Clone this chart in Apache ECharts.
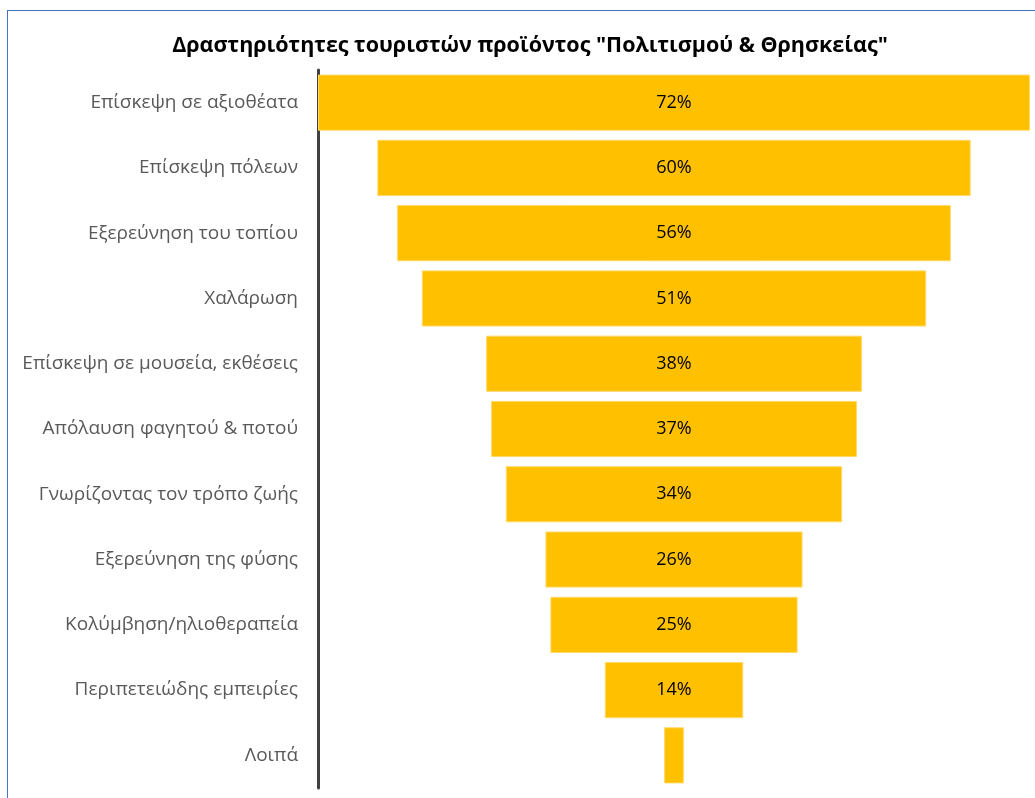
<!DOCTYPE html>
<html>
<head>
<meta charset="utf-8">
<script src="https://cdn.jsdelivr.net/npm/echarts@6/dist/echarts.min.js"></script>
<style>
  html, body { margin: 0; padding: 0; background: #fff; }
  #chart { width: 1035px; height: 798px; }
</style>
</head>
<body>
<div id="chart"></div>
<script>
// Activities of tourists, culture & religion product (share of respondents, %)
const categories = [
  'Επίσκεψη σε αξιοθέατα',
  'Επίσκεψη πόλεων',
  'Εξερεύνηση του τοπίου',
  'Χαλάρωση',
  'Επίσκεψη σε μουσεία, εκθέσεις',
  'Απόλαυση φαγητού & ποτού',
  'Γνωρίζοντας τον τρόπο ζωής',
  'Εξερεύνηση της φύσης',
  'Κολύμβηση/ηλιοθεραπεία',
  'Περιπετειώδης εμπειρίες',
  'Λοιπά'
];
const values = [72, 60, 56, 51, 38, 37, 34, 26, 25, 14, 2];
const titleText = 'Δραστηριότητες τουριστών προϊόντος "Πολιτισμού & Θρησκείας"';

const maxVal = Math.max(...values);
// invisible spacer so each bar sits centred on the widest one
const spacer = values.map(v => (maxVal - v) / 2);

const chart = echarts.init(document.getElementById('chart'), null, { renderer: 'canvas' });
chart.setOption({
  animation: false,
  backgroundColor: '#ffffff',
  title: {
    text: titleText,
    left: 525,
    textAlign: 'center',
    top: 30,
    textStyle: { fontFamily: 'Open Sans', fontWeight: 'bold', fontSize: 21.5, color: '#000000' }
  },
  graphic: [
    { type: 'line', shape: { x1: 7, y1: 10.5, x2: 1035, y2: 10.5 }, style: { stroke: '#4472C4', lineWidth: 1 } },
    { type: 'line', shape: { x1: 7.5, y1: 10, x2: 7.5, y2: 798 }, style: { stroke: '#4472C4', lineWidth: 1 } }
  ],
  grid: { left: 318, right: 5, top: 70, bottom: 10, containLabel: false },
  xAxis: {
    type: 'value', min: 0, max: maxVal,
    show: false
  },
  yAxis: {
    type: 'category',
    data: categories,
    inverse: true,
    offset: 2,
    axisLine: { show: true, lineStyle: { color: '#404040', width: 3 } },
    axisTick: { show: false },
    axisLabel: { color: '#595959', fontFamily: 'Open Sans', fontSize: 19, margin: 18 }
  },
  series: [
    {
      type: 'bar', stack: 'f', data: spacer,
      itemStyle: { color: 'transparent' },
      barCategoryGap: '14%', silent: true
    },
    {
      type: 'bar', stack: 'f',
      data: values.map(v => ({ value: v, label: { show: v >= 5 } })),
      itemStyle: { color: '#FFC000', borderColor: '#FFD966', borderWidth: 1 },
      barCategoryGap: '14%',
      label: {
        position: 'inside', formatter: '{c}%',
        color: '#000000', fontFamily: 'Open Sans', fontSize: 18
      }
    }
  ]
});
</script>
</body>
</html>
